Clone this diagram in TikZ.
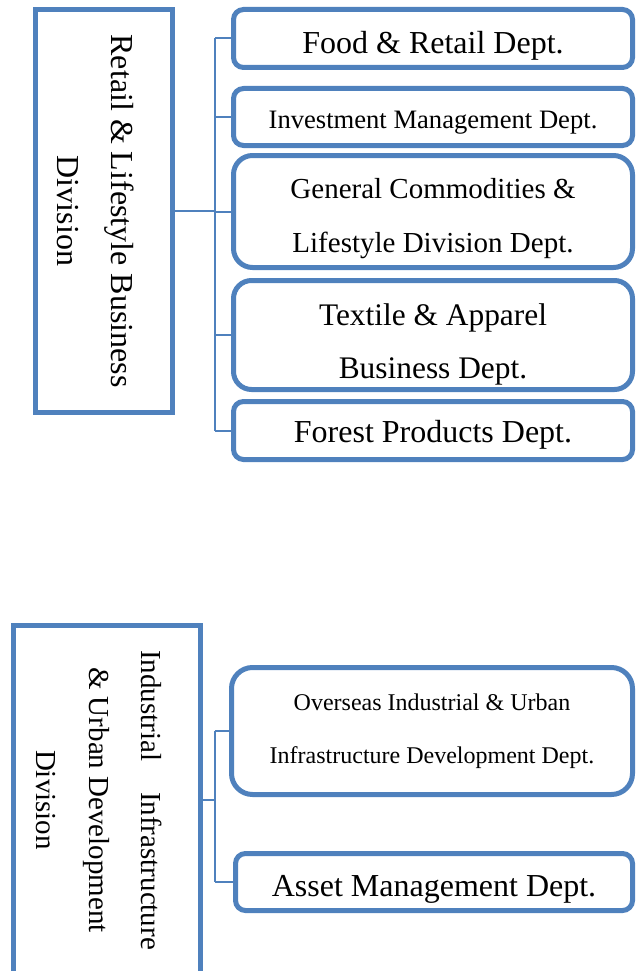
\documentclass[tikz,border=0pt]{standalone}
\usepackage{fontspec}
\setmainfont{Liberation Serif}
\usepackage{tikz}
\definecolor{boxblue}{RGB}{79,129,189}
\newcommand{\padtop}[1]{\rule{0pt}{#1}}
\tikzset{
  divbox/.style={draw=boxblue,line width=5pt,inner sep=0pt},
  deptbox/.style={draw=boxblue,line width=5pt,align=center,inner sep=0pt,minimum width=399pt},
  divtext/.style={rotate=-90,align=center},
  link/.style={draw=boxblue,line width=2pt}
}
\begin{document}
\begin{tikzpicture}[x=1pt,y=-1pt]
\clip (0,0) rectangle (641,971);
% division boxes
\node[divbox,minimum width=137pt,minimum height=403pt] (retail) at (104,211) {};
\node[divtext,font=\fontsize{32}{54}\selectfont] (retailtext) at (96,211) {Retail \& Lifestyle Business\\Division};
\node[divbox,minimum width=187pt,minimum height=350pt] (industrial) at (107,800) {};
\node[divtext,font=\fontsize{29}{52.5}\selectfont] (industrialtext) at (99.5,800) {Industrial\hspace{31pt}Infrastructure\\\& Urban Development\\Division};
% departments, top
\node[deptbox,minimum height=58pt,rounded corners=10pt,font=\fontsize{32}{38}\selectfont] (food) at (433,38.5) {\padtop{36pt}Food \& Retail Dept.};
\node[deptbox,minimum height=57pt,rounded corners=10pt,font=\fontsize{26.6}{32}\selectfont] (invest) at (433,117) {\padtop{28pt}Investment Management Dept.};
\node[deptbox,minimum height=112pt,rounded corners=19pt,font=\fontsize{29}{54}\selectfont] (general) at (433,211.5) {\padtop{35pt}General Commodities \&\\Lifestyle Division Dept.};
\node[deptbox,minimum height=109pt,rounded corners=18pt,font=\fontsize{31.4}{53}\selectfont] (textile) at (433,335) {\padtop{40pt}Textile \& Apparel\\Business Dept.};
\node[deptbox,minimum height=58pt,rounded corners=10pt,font=\fontsize{32}{38}\selectfont] (forest) at (433,430.5) {\padtop{30pt}Forest Products Dept.};
% departments, bottom
\node[deptbox,minimum width=401pt,minimum height=127pt,rounded corners=21pt,font=\fontsize{24}{53}\selectfont] (overseas) at (432,731) {Overseas Industrial \& Urban\\Infrastructure Development Dept.};
\node[deptbox,minimum width=397pt,minimum height=57pt,rounded corners=10pt,font=\fontsize{32}{38}\selectfont] (asset) at (434,882) {\padtop{35pt}Asset Management Dept.};
% connectors, top
\coordinate (hubtop) at (215,211);
\draw[link] (retail.east) -- (hubtop);
\draw[link] (hubtop |- food.west) -- (hubtop |- forest.west);
\foreach \d in {food,invest,general,textile,forest}
  \draw[link] (hubtop |- \d.west) -- (\d.west);
% connectors, bottom
\coordinate (hubbot) at (215,800);
\draw[link] (industrial.east) -- (hubbot);
\draw[link] (hubbot |- overseas.west) -- (hubbot |- asset.west);
\foreach \d in {overseas,asset}
  \draw[link] (hubbot |- \d.west) -- (\d.west);
\end{tikzpicture}
\end{document}
